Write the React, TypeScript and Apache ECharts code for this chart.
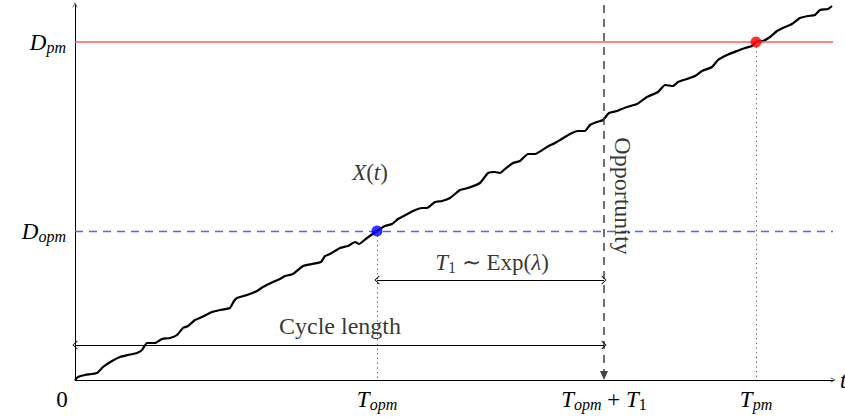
import React, { useEffect, useRef } from 'react';
import * as echarts from 'echarts';

// Degradation path X(t): time values and degradation levels
const pathTimes = [0, 3, 10, 22, 28, 37, 45, 53, 62, 67, 72, 80, 87, 95, 102, 108, 113, 120, 127, 137, 145, 155, 159, 162, 172, 182, 188, 198, 205, 210, 218, 228, 237, 246, 250, 255, 265, 273, 280, 284, 292, 302, 310, 317, 323, 325, 338, 347, 352, 360, 367, 375, 385, 393, 405, 413, 420, 425, 430, 438, 445, 453, 460, 472, 480, 485, 490, 497, 503, 510, 515, 522, 528, 534, 542, 552, 562, 572, 583, 590, 598, 603, 612, 620, 627, 637, 643, 652, 662, 670, 677, 681, 688, 695, 702, 708, 717, 725, 733, 740, 745, 753, 757];
const pathValues = [0, 3, 5, 7, 13, 19, 23, 25, 27, 30, 37, 37, 41, 42, 45, 52, 54, 60, 63, 68, 70, 72, 79, 82, 85, 89, 93, 98, 101, 104, 106, 114, 116, 118, 124, 126, 132, 134, 138, 136, 142, 149, 154, 156, 161, 162, 169, 172, 172, 178, 179, 182, 190, 192, 197, 207, 208, 207, 211, 217, 219, 226, 226, 233, 237, 240, 243, 247, 249, 249, 255, 258, 260, 267, 269, 273, 276, 283, 288, 295, 294, 298, 301, 304, 309, 313, 320, 325, 329, 332, 334, 338, 339, 343, 349, 352, 356, 362, 364, 365, 370, 371, 374];

// Thresholds and key times
const thresholdValues = [149, 338]; // D_opm, D_pm
const thresholdLabels = ['{m|D}{s|opm}', '{m|D}{s|pm}'];
const keyTimes = [0, 302, 529, 681]; // 0, T_opm, T_opm + T1, T_pm
const keyTimeLabels = ['{z|0}', '{m|T}{s|opm}', '{m|T}{s|opm}{r| + }{m|T}{n|1}', '{m|T}{s|pm}'];
const axisMax = { t: 758, x: 375 };
const opportunityTop = 375;
const cycleArrowLevel = 35;
const t1ArrowLevel = 100;

// Annotation texts and anchor points
const annotationTexts = ['{m|X}{r|(}{m|t}{r|)}', '{o|Cycle length}', '{m|T}{n|1}{r| ∼ Exp(}{m|λ}{r|)}', '{o|Opportunity}'];
const annotationPoints = [[295, 208], [265, 54], [417, 118], [548, 184]];
const annotationRotations = [0, 0, 0, -90];

const SERIF = '"Liberation Serif", "Times New Roman", serif';
const FS = 23;
const SFS = 16;
const rich = {
  m: { fontFamily: SERIF, fontStyle: 'italic', fontSize: FS, color: '#000', lineHeight: 26 },
  s: { fontFamily: SERIF, fontStyle: 'italic', fontSize: SFS, color: '#000', verticalAlign: 'bottom', lineHeight: 16 },
  n: { fontFamily: SERIF, fontSize: SFS, color: '#000', verticalAlign: 'bottom', lineHeight: 16 },
  r: { fontFamily: SERIF, fontSize: FS, color: '#000', lineHeight: 26 },
  o: { fontFamily: SERIF, fontSize: FS + 1, color: '#000', lineHeight: 26 },
  z: { fontFamily: SERIF, fontSize: FS, color: '#000', lineHeight: 26, padding: [0, 26, 0, 0] },
};

const CHEVRON = 'path://M0,9.3 L5,0 L10,9.3 L9,10 L5,2.2 L1,10 Z';

function markSeries(name: string, from: number[], to: number[], lineStyle: any, symbol: any, symbolSize: any, z = 2) {
  return {
    name,
    type: 'scatter',
    data: [],
    z,
    silent: true,
    markLine: {
      silent: true,
      animation: false,
      symbol,
      symbolSize,
      label: { show: false },
      lineStyle,
      emphasis: { disabled: true },
      data: [[{ coord: from }, { coord: to }]],
    },
  };
}

export default function App() {
  const ref = useRef<HTMLDivElement>(null);
  useEffect(() => {
    if (!ref.current) return;
    document.body.style.margin = '0';
    document.body.style.overflow = 'hidden';
    const chart = echarts.init(ref.current, undefined, { renderer: 'svg', width: 845, height: 417 });
    const pathData = pathTimes.map((t, i) => [t, pathValues[i]]);
    const option: any = {
      animation: false,
      backgroundColor: '#fff',
      grid: { left: 75, right: 12, top: 5, bottom: 37, containLabel: false, outerBoundsMode: 'none' },
      xAxis: {
        type: 'value',
        min: 0,
        max: axisMax.t,
        name: 't',
        nameLocation: 'end',
        nameGap: 7,
        nameTextStyle: { fontFamily: SERIF, fontStyle: 'italic', fontSize: FS, color: '#000', verticalAlign: 'middle' },
        axisLine: { show: true, lineStyle: { color: '#000', width: 1 }, symbol: ['none', CHEVRON], symbolSize: [9, 5] },
        axisTick: { show: false },
        splitLine: { show: false },
        axisLabel: {
          show: true,
          customValues: keyTimes,
          margin: 6,
          color: '#000',
          formatter: (v: number) => keyTimeLabels[keyTimes.indexOf(v)] ?? '',
          rich,
        },
      },
      yAxis: {
        type: 'value',
        min: 0,
        max: axisMax.x,
        axisLine: { show: true, onZero: false, lineStyle: { color: '#000', width: 1 }, symbol: ['none', CHEVRON], symbolSize: [9, 5] },
        axisTick: { show: false },
        splitLine: { show: false },
        axisLabel: {
          show: true,
          customValues: thresholdValues,
          margin: 9,
          color: '#000',
          formatter: (v: number) => thresholdLabels[thresholdValues.indexOf(v)] ?? '',
          rich,
        },
      },
      series: [
        markSeries('dpm', [0, thresholdValues[1]], [axisMax.t, thresholdValues[1]], { color: '#ff5c5c', width: 1.5, type: 'solid' }, ['none', 'none'], 0, 1),
        markSeries('dopm', [0, thresholdValues[0]], [axisMax.t, thresholdValues[0]], { color: '#5c5cff', width: 1.4, type: [8, 6] }, ['none', 'none'], 0, 1),
        markSeries('topmDotted', [keyTimes[1], thresholdValues[0]], [keyTimes[1], 0], { color: '#555', width: 1, type: [1.2, 3.5] }, ['none', 'none'], 0, 1),
        markSeries('tpmDotted', [keyTimes[3], thresholdValues[1]], [keyTimes[3], 0], { color: '#555', width: 1, type: [1.2, 3.5] }, ['none', 'none'], 0, 1),
        markSeries('opportunity', [keyTimes[2], opportunityTop], [keyTimes[2], 4.5], { color: '#444', width: 1.5, type: [8, 6] }, ['none', 'triangle'], [8, 9], 1),
        markSeries('cycle', [0, cycleArrowLevel], [keyTimes[2], cycleArrowLevel], { color: '#000', width: 1, type: 'solid' }, [CHEVRON, CHEVRON], [9, 5], 2),
        markSeries('t1', [keyTimes[1], t1ArrowLevel], [keyTimes[2], t1ArrowLevel], { color: '#000', width: 1, type: 'solid' }, [CHEVRON, CHEVRON], [9, 5], 2),
        {
          name: 'X(t)',
          type: 'line',
          data: pathData,
          showSymbol: false,
          symbol: 'none',
          smooth: 0.15,
          z: 3,
          lineStyle: { color: '#000', width: 2.2 },
          silent: true,
        },
        {
          name: 'dots',
          type: 'scatter',
          z: 5,
          silent: true,
          symbolSize: 11,
          data: [
            { value: [keyTimes[1], thresholdValues[0]], itemStyle: { color: '#0000ff' } },
            { value: [keyTimes[3], thresholdValues[1]], itemStyle: { color: '#ff0000' } },
          ],
        },
        {
          name: 'labels',
          type: 'scatter',
          z: 6,
          silent: true,
          symbolSize: 1,
          itemStyle: { color: 'rgba(0,0,0,0)' },
          data: annotationPoints.map((p, i) => ({
            value: p,
            label: {
              show: true,
              position: 'inside',
              color: '#000',
              formatter: annotationTexts[i],
              rotate: annotationRotations[i],
              rich,
            },
          })),
        },
      ],
    };
    chart.setOption(option);
    return () => chart.dispose();
  }, []);
  return <div ref={ref} style={{ position: 'absolute', left: 0, top: 0, width: 845, height: 417 }} />;
}
